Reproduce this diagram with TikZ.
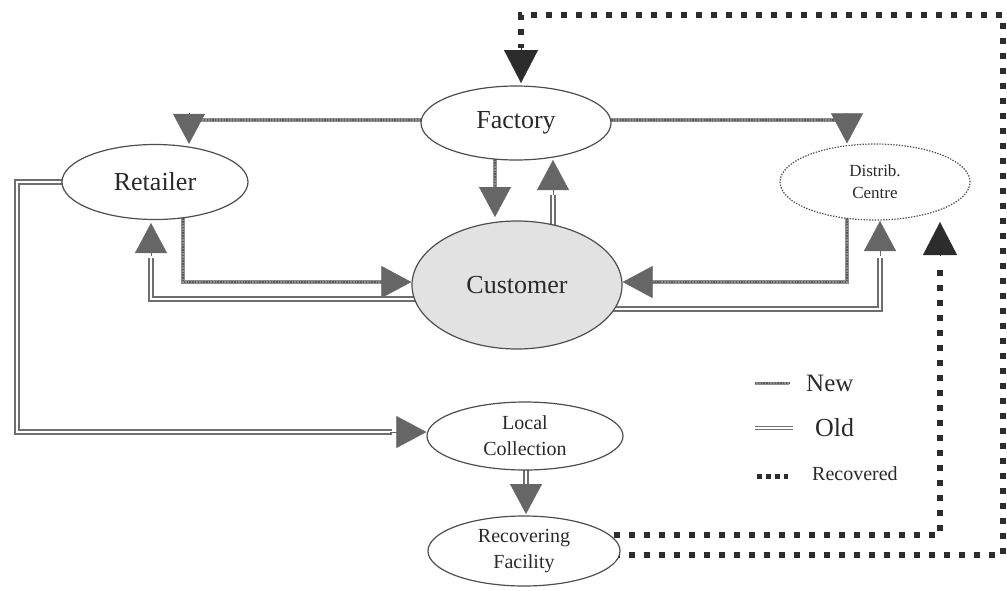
\documentclass[tikz,border=0pt]{standalone}
\usepackage{fontspec}
\setmainfont{Liberation Serif}
\usetikzlibrary{shapes.geometric,arrows.meta}

\definecolor{edgegray}{HTML}{4E4E4E}
\definecolor{textgray}{HTML}{2A2A2A}
\definecolor{newgray}{HTML}{8E8E8E}
\definecolor{newdark}{HTML}{5A5A5A}
\definecolor{oldgray}{HTML}{6E6E6E}
\definecolor{tipgray}{HTML}{666666}
\definecolor{recdark}{HTML}{2C2C2C}
\definecolor{custfill}{HTML}{E2E2E2}

\pgfdeclarelayer{background}
\pgfsetlayers{background,main}

\begin{document}
\begin{tikzpicture}[x=1pt,y=-1pt,
  place/.style={ellipse, draw=edgegray, line width=1.2pt, fill=white,
    inner sep=0pt, text=textgray, align=center},
  bigtext/.style={font=\fontsize{26}{30}\selectfont},
  smalltext/.style={font=\fontsize{20}{26}\selectfont},
  newflow/.style={draw=newgray, line width=4.5pt, line join=miter,
    postaction={draw=newdark, line width=2pt, dash pattern=on 1.3pt off 1.5pt}},
  oldflow/.style={draw=oldgray, line width=1.5pt, double=white,
    double distance=2.6pt, line join=miter},
  recflow/.style={draw=recdark, line width=6pt, dash pattern=on 6pt off 9pt},
  flowtip/.style={draw=tipgray, line width=0.4pt,
    -{Triangle[length=30pt,width=32pt]}},
  rectip/.style={draw=recdark, line width=0.4pt,
    -{Triangle[length=33pt,width=34pt]}},
  legendtext/.style={text=textgray, anchor=west, inner sep=0pt}
]
\useasboundingbox (0,0) rectangle (1007,590);

% places of the network
\node[place, bigtext, minimum width=190pt, minimum height=74pt] (fac) at (516,123) {Factory};
\node[place, bigtext, fill=custfill, minimum width=210pt, minimum height=128pt] (cust) at (517,285) {Customer};
\node[place, bigtext, minimum width=186pt, minimum height=75pt] (ret) at (155,182) {Retailer};
\node[place, dash pattern=on 1.4pt off 1.4pt, font=\fontsize{17}{22}\selectfont,
  minimum width=190pt, minimum height=76pt] (dist) at (875,182) {Distrib.\\Centre};
\node[place, smalltext, minimum width=196pt, minimum height=68pt] (loc) at (525,436) {Local\\Collection};
\node[place, smalltext, minimum width=192pt, minimum height=70pt] (rec) at (524,551) {Recovering\\Facility};

% legend
\node[legendtext, font=\fontsize{25}{30}\selectfont] (lnew) at (806,383) {New};
\node[legendtext, font=\fontsize{26}{30}\selectfont] (lold) at (815,428) {Old};
\node[legendtext, font=\fontsize{20}{24}\selectfont] (lrec) at (812,474) {Recovered};
\draw[newflow, line width=3pt, postaction={draw=newdark, line width=1.4pt, dash pattern=on 1.3pt off 1.5pt}]
  ([xshift=-51pt]lnew.west) -- ([xshift=-17pt]lnew.west);
\draw[oldflow, line width=1.1pt, double distance=2pt]
  ([xshift=-60pt]lold.west) -- ([xshift=-22pt]lold.west);
\draw[recflow, line width=5pt, dash pattern=on 5pt off 4pt]
  ([xshift=-55pt,yshift=-2pt]lrec.west) -- ([xshift=-24pt,yshift=-2pt]lrec.west);

\begin{pgfonlayer}{background}
  % Factory -> Retailer and Distrib. Centre (new)
  \draw[newflow] ([yshift=3pt]fac.center) -| (189,118);
  \draw[flowtip] (189,113) -- (ret.north -| 189,0);
  \draw[newflow] ([yshift=3pt]fac.center) -| (847,118);
  \draw[flowtip] (847,113) -- (dist.north -| 847,0);

  % Factory <-> Customer
  \draw[newflow] (fac.center -| 495,0) -- (495,192);
  \draw[flowtip] (495,186) -- (495,217);
  \draw[oldflow] (cust.center -| 553,0) -- (553,195);
  \draw[flowtip] (553,195) -- (553,160);

  % Retailer <-> Customer
  \draw[newflow] (ret.center -| 183,0) |- (382,282);
  \draw[flowtip] (380,282) -- (cust.west |- 0,282);
  \draw[oldflow] (cust.center |- 0,299) -| (151,258);
  \draw[flowtip] (151,256) -- (151,223);

  % Distrib. Centre <-> Customer
  \draw[newflow] (dist.center -| 847,0) |- (652,282);
  \draw[flowtip] (660,282) -- (cust.east |- 0,282);
  \draw[oldflow] (cust.center |- 0,309) -| (880,258);
  \draw[flowtip] (880,256) -- (880,221);

  % Retailer -> Local Collection -> Recovering Facility
  \draw[oldflow] (ret.center) -| (17,432) -- (392,432);
  \draw[flowtip] (390,432) -- (loc.west |- 0,432);
  \draw[oldflow] (loc.center -| 526,0) -- (526,490);
  \draw[flowtip] (526,484) -- (526,514);

  % recovered returns
  \draw[recflow] (rec.center |- 0,535) -| (940,262);
  \draw[rectip] (940,256) -- (940,222);
  \draw[recflow] (rec.center |- 0,555) -| (1003,15) -| (521,48);
  \draw[rectip] (521,48) -- (521,83);
\end{pgfonlayer}
\end{tikzpicture}
\end{document}
